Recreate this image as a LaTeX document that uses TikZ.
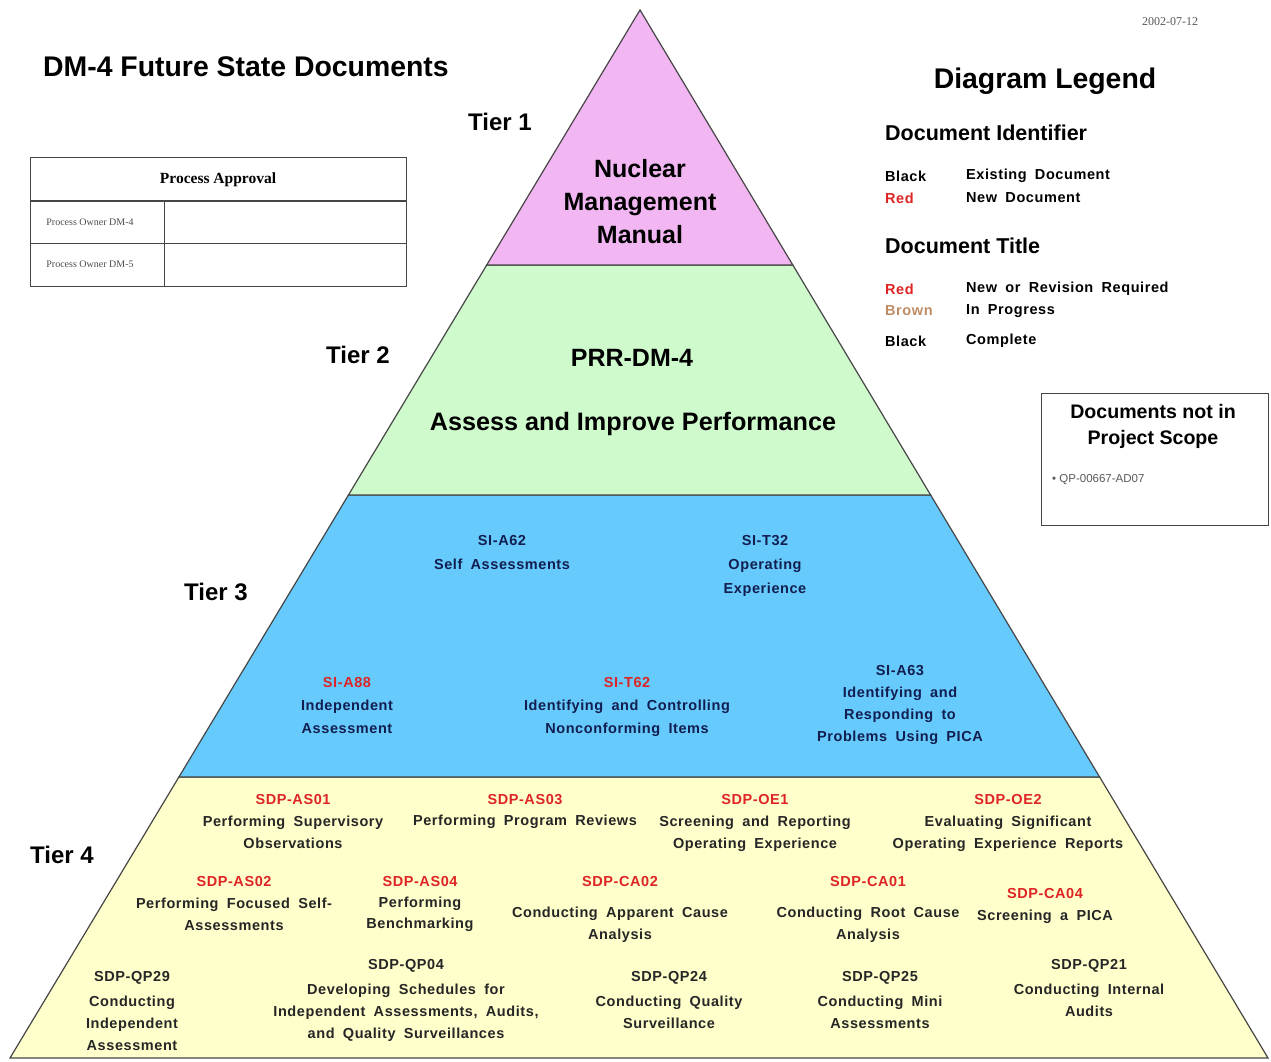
\documentclass[tikz,border=0pt]{standalone}
\usepackage{fontspec}
\setmainfont{Liberation Sans}
\newfontfamily\serifrm{Liberation Serif}
\newfontfamily\widesans[LetterSpace=4, WordSpace=1.8]{Liberation Sans}
\usetikzlibrary{calc}

\definecolor{tierone}{RGB}{242,182,242}
\definecolor{tiertwo}{RGB}{206,250,204}
\definecolor{tierthree}{RGB}{102,202,252}
\definecolor{tierfour}{RGB}{255,255,204}
\definecolor{edgegray}{RGB}{70,70,70}
\definecolor{newred}{RGB}{222,36,36}
\definecolor{navytext}{RGB}{18,30,80}
\definecolor{brownish}{RGB}{190,140,100}

\tikzset{
  tier/.style={draw=edgegray, line width=1.2pt, line join=miter},
  tierlabel/.style={font=\bfseries\fontsize{24}{28}\selectfont, inner sep=0pt},
  bigtext/.style={font=\bfseries\fontsize{25}{33}\selectfont, align=center, inner sep=0pt},
  tthree/.style={font=\widesans\bfseries\fontsize{14.5}{24}\selectfont, align=center, inner sep=0pt, text=navytext},
  tfour/.style={font=\widesans\bfseries\fontsize{14.5}{22}\selectfont, align=center, inner sep=0pt, text=black!85},
  legendhead/.style={font=\bfseries\fontsize{21.5}{24}\selectfont, anchor=west, inner sep=0pt},
  legendrow/.style={font=\widesans\bfseries\fontsize{14.5}{16}\selectfont, anchor=west, inner sep=0pt},
}

\begin{document}
\begin{tikzpicture}[x=1pt, y=-1pt]
\useasboundingbox (0,0) rectangle (1271,1062);
\fill[white] (0,0) rectangle (1271,1062);

% pyramid corners
\coordinate (apex) at (640,10);
\coordinate (bl) at (10,1058);
\coordinate (br) at (1268,1058);
% tier boundaries along the two sides
\coordinate (l1) at ($(apex)!{255/1048}!(bl)$);
\coordinate (r1) at ($(apex)!{255/1048}!(br)$);
\coordinate (l2) at ($(apex)!{485/1048}!(bl)$);
\coordinate (r2) at ($(apex)!{485/1048}!(br)$);
\coordinate (l3) at ($(apex)!{767/1048}!(bl)$);
\coordinate (r3) at ($(apex)!{767/1048}!(br)$);

\filldraw[tier, fill=tierfour] (l3) -- (r3) -- (br) -- (bl) -- cycle;
\filldraw[tier, fill=tierthree] (l2) -- (r2) -- (r3) -- (l3) -- cycle;
\filldraw[tier, fill=tiertwo] (l1) -- (r1) -- (r2) -- (l2) -- cycle;
\filldraw[tier, fill=tierone] (apex) -- (r1) -- (l1) -- cycle;

% title and date
\node[font=\bfseries\fontsize{28.4}{30}\selectfont, anchor=west, inner sep=0pt] (title) at (43,67) {DM-4 Future State Documents};
\node[font=\serifrm\fontsize{12}{14}\selectfont, text=black!65, inner sep=0pt] (date) at (1170,22) {2002-07-12};

% approval table
\draw[edgegray, line width=1pt] (30,157) rectangle (406,286);
\draw[edgegray, line width=1.4pt] (30,201) -- (406,201);
\draw[edgegray, line width=1pt] (30,243) -- (406,243);
\draw[edgegray, line width=1pt] (164,201) -- (164,286);
\node[font=\serifrm\bfseries\fontsize{15.5}{18}\selectfont, inner sep=0pt] (pa) at (218,180) {Process Approval};
\node[font=\serifrm\fontsize{10}{11}\selectfont, text=black!70, inner sep=0pt] (own4) at (90,222) {Process Owner DM-4};
\node[font=\serifrm\fontsize{10}{11}\selectfont, text=black!70, inner sep=0pt] (own5) at (90,264) {Process Owner DM-5};

% tier labels
\node[tierlabel] (t1) at (500,122) {Tier 1};
\node[tierlabel] (t2) at (358,355) {Tier 2};
\node[tierlabel] (t3) at (216,592) {Tier 3};
\node[tierlabel] (t4) at (62,855) {Tier 4};

% tier 1 and tier 2 contents
\node[bigtext] (nmm) at (640,202) {Nuclear\\Management\\Manual};
\node[font=\bfseries\fontsize{25}{28}\selectfont, inner sep=0pt] (prr) at (632,358) {PRR-DM-4};
\node[font=\bfseries\fontsize{25.2}{28}\selectfont, inner sep=0pt] (aip) at (633,424) {Assess and Improve Performance};

% legend
\node[font=\bfseries\fontsize{28.4}{30}\selectfont, inner sep=0pt] (leg) at (1045,81) {Diagram Legend};
\node[legendhead] (docid) at (885,133) {Document Identifier};
\node[legendrow] (k1) at (885,176) {Black};
\node[legendrow] (v1) at (966,176) {Existing Document};
\node[legendrow, text=newred] (k2) at (885,198) {Red};
\node[legendrow] (v2) at (966,198) {New Document};
\node[legendhead] (doct) at (885,246) {Document Title};
\node[legendrow, text=newred] (k3) at (885,289) {Red};
\node[legendrow] (v3) at (966,289) {New or Revision Required};
\node[legendrow, text=brownish] (k4) at (885,311) {Brown};
\node[legendrow] (v4) at (966,311) {In Progress};
\node[legendrow] (k5) at (885,341) {Black};
\node[legendrow] (v5) at (966,341) {Complete};

% out-of-scope box
\draw[edgegray, line width=1pt] (1041,393) rectangle (1268,525);
\node[font=\bfseries\fontsize{19.6}{26}\selectfont, align=center, inner sep=0pt] (nis) at (1153,426) {Documents not in\\Project Scope};
\node[font=\fontsize{11.5}{13}\selectfont, text=black!65, anchor=west, inner sep=0pt] (qp) at (1052,480) {{\textbullet} QP-00667-AD07};

% tier 3 documents
\node[tthree, anchor=north] (sia62) at (502,535) {SI-A62\\Self Assessments};
\node[tthree, anchor=north] (sit32) at (765,535) {SI-T32\\Operating\\Experience};
\node[tthree, anchor=north, font=\widesans\bfseries\fontsize{14.5}{23}\selectfont] (sia88) at (347,677) {\textcolor{newred}{SI-A88}\\Independent\\Assessment};
\node[tthree, anchor=north, font=\widesans\bfseries\fontsize{14.5}{23}\selectfont] (sit62) at (627,677) {\textcolor{newred}{SI-T62}\\Identifying and Controlling\\Nonconforming Items};
\node[tthree, anchor=north, font=\widesans\bfseries\fontsize{14.5}{22}\selectfont] (sia63) at (900,665) {SI-A63\\Identifying and\\Responding to\\Problems Using PICA};

% tier 4 documents
\node[tfour, anchor=north] (as01) at (293,794) {\textcolor{newred}{SDP-AS01}\\Performing Supervisory\\Observations};
\node[tfour, anchor=north, font=\widesans\bfseries\fontsize{14.5}{21}\selectfont] (as03) at (525,794) {\textcolor{newred}{SDP-AS03}\\Performing Program Reviews};
\node[tfour, anchor=north] (oe1) at (755,794) {\textcolor{newred}{SDP-OE1}\\Screening and Reporting\\Operating Experience};
\node[tfour, anchor=north] (oe2) at (1008,794) {\textcolor{newred}{SDP-OE2}\\Evaluating Significant\\Operating Experience Reports};
\node[tfour, anchor=north] (as02) at (234,876) {\textcolor{newred}{SDP-AS02}\\Performing Focused Self-\\Assessments};
\node[tfour, anchor=north, font=\widesans\bfseries\fontsize{14.5}{21}\selectfont] (as04) at (420,876) {\textcolor{newred}{SDP-AS04}\\Performing\\Benchmarking};
\node[tfour, anchor=north] (ca02) at (620,876) {\textcolor{newred}{SDP-CA02}\\[9pt]Conducting Apparent Cause\\Analysis};
\node[tfour, anchor=north] (ca01) at (868,876) {\textcolor{newred}{SDP-CA01}\\[9pt]Conducting Root Cause\\Analysis};
\node[tfour, anchor=north] (ca04) at (1045,888) {\textcolor{newred}{SDP-CA04}\\Screening a PICA};
\node[tfour, anchor=north] (qp29) at (132,971) {SDP-QP29\\[3pt]Conducting\\Independent\\Assessment};
\node[tfour, anchor=north] (qp04) at (406,959) {SDP-QP04\\[3pt]Developing Schedules for\\Independent Assessments, Audits,\\and Quality Surveillances};
\node[tfour, anchor=north] (qp24) at (669,971) {SDP-QP24\\[3pt]Conducting Quality\\Surveillance};
\node[tfour, anchor=north] (qp25) at (880,971) {SDP-QP25\\[3pt]Conducting Mini\\Assessments};
\node[tfour, anchor=north] (qp21) at (1089,959) {SDP-QP21\\[3pt]Conducting Internal\\Audits};
\end{tikzpicture}
\end{document}
